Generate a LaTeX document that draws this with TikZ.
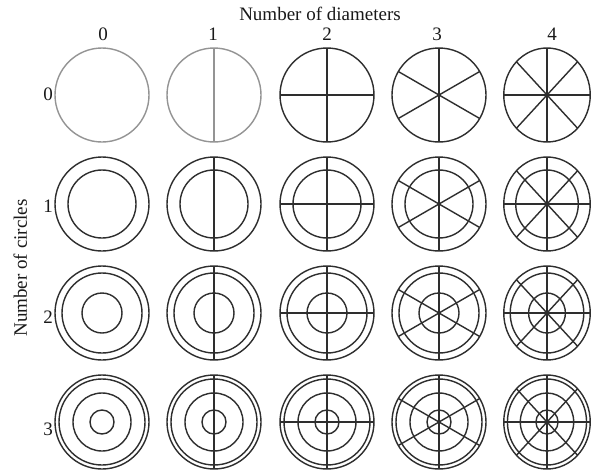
\documentclass[tikz,border=0pt]{standalone}
\usepackage{fontspec}
\setmainfont{Liberation Serif}
\begin{document}
\begin{tikzpicture}[x=1pt,y=-1pt,
  lbl/.style={font=\fontsize{19}{22}\selectfont, inner sep=0pt, anchor=base, text=black!90},
  ring/.style={line width=1.4pt, draw=black!82},
  faint/.style={line width=1.4pt, draw=black!42}]
\useasboundingbox[fill=white] (0,0) rectangle (592,472);
% labels
\node[lbl] (title) at (320,20) {Number of diameters};
\foreach \k/\xc in {0/103,1/213,2/327,3/437,4/552} {
  \node[lbl] (col\k) at (\xc,40) {\k};
}
\foreach \r/\yb in {0/100,1/212,2/323,3/435} {
  \node[lbl] (row\r) at (48,\yb) {\r};
}
\node[lbl, rotate=90] (ylabel) at (27,268) {Number of circles};
% centres
\foreach \r in {0,...,3} {
  \foreach \k/\xc in {0/102,1/214,2/327,3/439,4/547} {
    \coordinate (c\r\k) at (\xc,{95+109*\r});
  }
}
\foreach \r/\radii in {0/{47},1/{47,34},2/{47,40,20},3/{47,43,29,12}} {
  \foreach \k/\xs in {0/1,1/1,2/1,3/1,4/0.92} {
    \def\st{ring}
    \ifnum\r=0 \ifnum\k<2 \def\st{faint}\fi\fi
    \begin{scope}[shift={(c\r\k)}, xscale=\xs]
      \foreach \rr in \radii {
        \draw[\st] (0,0) circle[radius=\rr];
      }
    \end{scope}
  }
  \foreach \k/\angs/\xs in {1/{90}/1,2/{0,90}/1,3/{90,30,150}/1,4/{0,45,90,135}/0.92} {
    \def\st{ring}
    \ifnum\r=0 \ifnum\k<2 \def\st{faint}\fi\fi
    \begin{scope}[shift={(c\r\k)}, xscale=\xs]
      \foreach \a in \angs {
        \draw[\st] (\a:47) -- (\a+180:47);
      }
    \end{scope}
  }
}
\end{tikzpicture}
\end{document}
